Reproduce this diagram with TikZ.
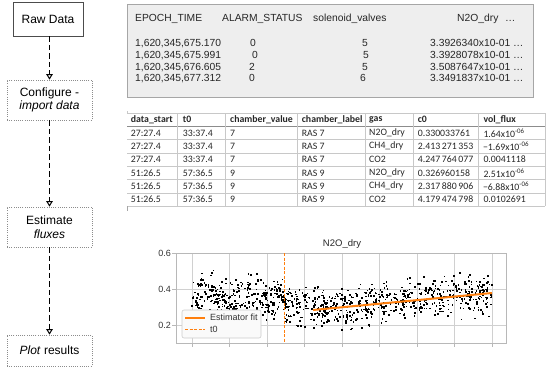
\documentclass[tikz,border=0pt]{standalone}
\usepackage{fontspec}
\setmainfont{Liberation Sans}
\newfontfamily\calib{Carlito}
\usetikzlibrary{arrows.meta}
\definecolor{mplorange}{HTML}{FF7F0E}
\definecolor{boxgray}{HTML}{EEEEEE}
\definecolor{gridgray}{HTML}{D0D0D0}
\definecolor{axgray}{HTML}{B8B8B8}
\definecolor{tabline}{HTML}{C8C8C8}
\definecolor{legfill}{HTML}{FAFAFA}
\tikzset{
  rawbox/.style={draw=black!70, line width=0.9pt, minimum width=70pt, minimum height=34pt, font=\fontsize{12}{14}\selectfont, inner sep=0pt},
  stepbox/.style={draw=black!45, line width=0.7pt, dash pattern=on 1pt off 1.2pt, minimum width=85pt, align=center, font=\fontsize{12}{13.5}\selectfont, inner sep=0pt},
  flowarrow/.style={draw=black, line width=1.5pt, dash pattern=on 5.5pt off 3pt, -{Triangle[open, length=5.5pt, width=6.5pt, line width=1pt]}},
  rawtxt/.style={anchor=base west, inner sep=0pt, font=\fontsize{10.3}{12}\selectfont, text=black!85},
  rawmid/.style={anchor=base, inner sep=0pt, font=\fontsize{10.3}{12}\selectfont, text=black!85},
  tabtxt/.style={anchor=west, inner sep=0pt, font=\calib\fontsize{9.8}{11}\selectfont, text=black!85},
  tabhead/.style={tabtxt, font=\calib\bfseries\fontsize{9.8}{11}\selectfont},
  ticklab/.style={anchor=east, inner sep=0pt, font=\fontsize{9}{10}\selectfont, text=black!80},
  legtxt/.style={anchor=west, inner sep=0pt, font=\fontsize{9}{10}\selectfont, text=black!80},
  fitline/.style={draw=mplorange, line width=2pt, line cap=butt},
  t0line/.style={draw=mplorange, line width=1pt, dash pattern=on 3pt off 1.5pt},
}
\begin{document}
\begin{tikzpicture}[x=1pt,y=-1pt]
\useasboundingbox (0,0) rectangle (550,373);

% ---------- flow boxes ----------
\node[rawbox] (raw) at (48,19) {Raw Data};
\node[stepbox, minimum height=40pt] (conf) at (49.5,100) {Configure -\\\textit{import data}};
\node[stepbox, minimum height=40pt] (est) at (49.5,227) {Estimate\\\textit{fluxes}};
\node[stepbox, minimum height=31pt] (plot) at (49.5,350.5) {\textit{Plot} results};
\draw[flowarrow] (raw.south -| conf.north) -- (conf.north);
\draw[flowarrow] (conf.south) -- (est.north);
\draw[flowarrow] (est.south) -- (plot.north);

% ---------- raw data table ----------
\node[draw=black!35, fill=boxgray, line width=0.8pt, minimum width=406pt, minimum height=93pt, anchor=north west, inner sep=0pt] (rawtab) at (127,4) {};
\node[rawtxt] (h1) at (135,21) {EPOCH\_TIME};
\node[rawtxt] (h2) at (222,21) {ALARM\_STATUS};
\node[rawtxt] (h3) at (313,21) {solenoid\_valves};
\node[rawtxt] (h4) at (457,21) {N2O\_dry};
\node[rawtxt] (h5) at (505,21) {\dots};
\foreach \k/\yy/\t/\a/\ax/\s/\sx/\n in {
  1/46.7/{1,620,345,675.170}/0/253/5/365/{3.3926340x10-01},
  2/58.3/{1,620,345,675.991}/0/255/5/366/{3.3928078x10-01},
  3/70/{1,620,345,676.605}/2/252/5/365/{3.5087647x10-01},
  4/81.7/{1,620,345,677.312}/0/252/6/363/{3.3491837x10-01}}{
  \node[rawtxt] (rt\k) at (135,\yy) {\t};
  \node[rawmid] (ra\k) at (\ax,\yy) {\a};
  \node[rawmid] (rs\k) at (\sx,\yy) {\s};
  \node[rawtxt] (rn\k) at (430,\yy) {\n\ \dots};
}

% ---------- flux table ----------
\foreach \yy in {113,139.6,153,166.3,179.6,193,206.3}{
  \draw[tabline, line width=0.6pt] (127,\yy) -- (545,\yy);
}
\draw[black!45, line width=1pt] (127,126.3) -- (545,126.3);
\foreach \xx in {177,225,297,365,413,478,545}{
  \draw[tabline, line width=0.6pt] (\xx,113) -- (\xx,206.3);
}
\draw[tabline, line width=0.6pt] (127,113) -- (127,111);
\draw[black!35, line width=0.6pt] (127,206.3) -- (127,211);
\node[tabhead] (th1) at (130.7,119.6) {data\_start};
\node[tabhead] (th2) at (182.7,119.6) {t0};
\node[tabhead] (th3) at (230,119.6) {chamber\_value};
\node[tabhead] (th4) at (301.7,119.6) {chamber\_label};
\node[tabhead] (th5) at (369,119.6) {gas};
\node[tabhead] (th6) at (417.7,119.6) {c0};
\node[tabhead] (th7) at (483.3,119.6) {vol\_flux};
\foreach \k/\yy/\a/\b/\c/\d/\e/\f/\g in {
  1/133/27:27.4/33:37.4/7/RAS 7/N2O\_dry/0.330033761/{1.64x10\textsuperscript{-06}},
  2/146.3/27:27.4/33:37.4/7/RAS 7/CH4\_dry/2.413\,271\,353/{\kern-0.5pt−1.69x10\textsuperscript{-06}},
  3/159.6/27:27.4/33:37.4/7/RAS 7/CO2/4.247\,764\,077/0.0041118,
  4/173/51:26.5/57:36.5/9/RAS 9/N2O\_dry/0.326960158/{2.51x10\textsuperscript{-06}},
  5/186.3/51:26.5/57:36.5/9/RAS 9/CH4\_dry/2.317\,880\,906/{\kern-0.5pt−6.88x10\textsuperscript{-06}},
  6/199.6/51:26.5/57:36.5/9/RAS 9/CO2/4.179\,474\,798/0.0102691}{
  \node[tabtxt] (ta\k) at (130.7,\yy) {\a};
  \node[tabtxt] (tb\k) at (182.7,\yy) {\b};
  \node[tabtxt] (tc\k) at (230,\yy) {\c};
  \node[tabtxt] (td\k) at (301.7,\yy) {\d};
  \node[tabtxt] (te\k) at (369,\yy) {\e};
  \node[tabtxt] (tf\k) at (417.7,\yy) {\f};
  \node[tabtxt] (tg\k) at (483.3,\yy) {\g};
}

% ---------- plot ----------
\node[inner sep=0pt, font=\fontsize{9.5}{11}\selectfont, text=black!85] (ptitle) at (342,244.5) {N2O\_dry};
\foreach \xx in {192,229.5,267,304.5,342,379.5,417,454.5,492}{
  \draw[gridgray, line width=0.6pt] (\xx,253) -- (\xx,343);
  \draw[axgray, line width=0.6pt] (\xx,343) -- (\xx,347);
}
\foreach \yy in {289,325}{
  \draw[gridgray, line width=0.6pt] (176,\yy) -- (506,\yy);
}
\foreach \yy/\lab/\nm in {253/0.6/A,289/0.4/B,325/0.2/C}{
  \draw[axgray, line width=0.6pt] (172,\yy) -- (176,\yy);
  \node[ticklab] (yl\nm) at (171,\yy) {\lab};
}
\begin{scope}
\clip (176,253) rectangle (506,343);
\pgfmathsetseed{20210506}
\foreach \i in {1,...,950}{
  \pgfmathsetmacro\px{192+300*rnd}
  \pgfmathsetmacro\base{\px<284 ? (0.355+0.02*sin(\px*9)) : (\px<325 ? 0.30 : 0.295+(\px-325)*0.00050)}
  \pgfmathsetmacro\py{253+(0.6-\base-(rnd+rnd+rnd-1.5)*0.105)*180}
  \fill[black] (\px-0.8,\py-0.8) rectangle ++(1.6,1.6);
}
\end{scope}
\draw[axgray, line width=0.8pt] (176,253) rectangle (506,343);
\draw[t0line] (284,253) -- (284,343);
\draw[fitline] (313,310) -- (492,293);
% legend
\draw[draw=black!20, fill=legfill, rounded corners=2pt, line width=0.6pt] (182,310) rectangle (261,338);
\draw[fitline] (185,317.5) -- (205,317.5);
\draw[t0line] (185,329.5) -- (205,329.5);
\node[legtxt] (leg1) at (210,317.5) {Estimator fit};
\node[legtxt] (leg2) at (210,329.5) {t0};
\end{tikzpicture}
\end{document}
